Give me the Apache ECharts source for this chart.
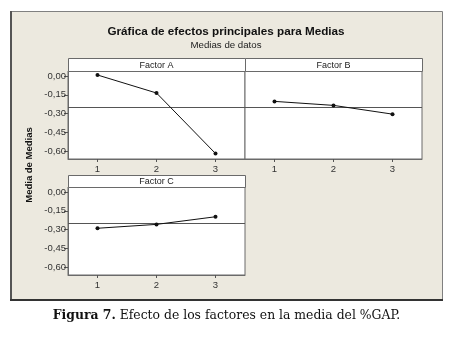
<!DOCTYPE html>
<html>
<head>
<meta charset="utf-8">
<script src="https://cdn.jsdelivr.net/npm/echarts@6/dist/echarts.min.js"></script>
<style>
html,body{margin:0;padding:0;background:#fff;}
#c{width:463px;height:343px;}
</style>
</head>
<body>
<div id="c"></div>
<script>
// ---- data ----
const levels = ['1', '2', '3'];
const factorNames = ['Factor A', 'Factor B', 'Factor C'];
const factorA = [0.008, -0.136, -0.620];
const factorB = [-0.203, -0.235, -0.305];
const factorC = [-0.290, -0.259, -0.198];
const yTicks = [0, -0.15, -0.30, -0.45, -0.60];
const titleText = 'Gráfica de efectos principales para Medias';
const subtitleText = 'Medias de datos';
const yName = 'Media de Medias';
const captionBold = 'Figura 7.';
const captionRest = ' Efecto de los factores en la media del %GAP.';

const allVals = factorA.concat(factorB, factorC);
const grandMean = allVals.reduce((s, v) => s + v, 0) / allVals.length;

const series = [factorA, factorB, factorC];
const gridPos = [
  {left: 68, top: 71, width: 177, height: 88},
  {left: 245, top: 71, width: 177, height: 88},
  {left: 68, top: 187, width: 177, height: 88}
];
const stripPos = [
  {x: 68, y: 58, h: 13},
  {x: 245, y: 58, h: 13},
  {x: 68, y: 175, h: 12}
];
const FONT = 'Liberation Sans';
const fmt = v => v.toFixed(2).replace('.', ',').replace('-0,00', '0,00');

const chart = echarts.init(document.getElementById('c'), null, {renderer: 'canvas'});

const grids = gridPos.map(g => Object.assign({
  show: true, backgroundColor: '#ffffff', borderColor: '#6a6a6a', borderWidth: 1, containLabel: false
}, g));

const xAxes = series.map((s, i) => ({
  type: 'category', gridIndex: i, data: levels, boundaryGap: true, position: 'bottom',
  axisLine: {show: true, onZero: false, lineStyle: {color: '#6a6a6a', width: 1}},
  axisTick: {show: true, alignWithLabel: true, length: 3, lineStyle: {color: '#555'}},
  axisLabel: {show: true, margin: 5, fontFamily: FONT, fontSize: 9.5, color: '#333'},
  splitLine: {show: false}
}));

const yAxes = series.map((s, i) => ({
  type: 'value', gridIndex: i, min: -0.664, max: 0.04, position: 'left',
  axisLine: {show: i !== 1, onZero: false, lineStyle: {color: '#6a6a6a', width: 1}},
  axisTick: {show: i !== 1, length: 4, customValues: yTicks, lineStyle: {color: '#555'}},
  axisLabel: {show: i !== 1, margin: 2, customValues: yTicks, formatter: fmt,
    fontFamily: FONT, fontSize: 9.5, color: '#333'},
  splitLine: {show: false}
}));

const seriesOpts = series.map((s, i) => ({
  type: 'line', xAxisIndex: i, yAxisIndex: i, data: s,
  symbol: 'circle', symbolSize: 4, showSymbol: true,
  lineStyle: {color: '#111', width: 1},
  itemStyle: {color: '#111'},
  animation: false, z: 5,
  markLine: {
    silent: true, symbol: 'none', animation: false,
    label: {show: false},
    lineStyle: {color: '#555', width: 1, type: 'solid'},
    data: [{yAxis: grandMean}]
  }
}));

const graphics = [
  {type: 'rect', z: -100, shape: {x: 10.5, y: 11.5, width: 432, height: 288},
   style: {fill: '#ECE9DF', stroke: '#808080', lineWidth: 1}, silent: true},
  {type: 'line', z: -90, shape: {x1: 11, y1: 11, x2: 11, y2: 300}, style: {stroke: '#555', lineWidth: 2}, silent: true},
  {type: 'line', z: -90, shape: {x1: 10, y1: 300, x2: 443, y2: 300}, style: {stroke: '#333', lineWidth: 2}, silent: true},
  {type: 'text', x: 226, y: 32, style: {text: titleText, font: 'bold 11.7px "Liberation Sans"', fill: '#111', textAlign: 'center', textVerticalAlign: 'middle'}},
  {type: 'text', x: 226, y: 45, style: {text: subtitleText, font: '9.7px "Liberation Sans"', fill: '#222', textAlign: 'center', textVerticalAlign: 'middle'}},
  {type: 'text', x: 29, y: 165, rotation: Math.PI / 2,
   style: {text: yName, font: 'bold 9.5px "Liberation Sans"', fill: '#111', textAlign: 'center', textVerticalAlign: 'middle'}},
  {type: 'text', x: 226.5, y: 316,
   style: {text: '{b|' + captionBold + '}{r|' + captionRest + '}', textAlign: 'center', textVerticalAlign: 'middle',
     rich: {b: {fontFamily: 'DejaVu Serif', fontWeight: 'bold', fontSize: 12.4, fill: '#111'},
            r: {fontFamily: 'DejaVu Serif', fontSize: 12.4, fill: '#111'}}}}
];
stripPos.forEach((s, i) => {
  graphics.push({type: 'rect', z: 10, shape: {x: s.x + 0.5, y: s.y + 0.5, width: 177, height: s.h},
    style: {fill: '#fff', stroke: '#6a6a6a', lineWidth: 1}, silent: true});
  graphics.push({type: 'text', z: 11, x: s.x + 88.5, y: s.y + s.h / 2 + 1,
    style: {text: factorNames[i], font: '9px "Liberation Sans"', fill: '#222', textAlign: 'center', textVerticalAlign: 'middle'}});
});

chart.setOption({
  animation: false,
  backgroundColor: '#ffffff',
  grid: grids,
  xAxis: xAxes,
  yAxis: yAxes,
  series: seriesOpts,
  graphic: graphics
});
</script>
</body>
</html>
